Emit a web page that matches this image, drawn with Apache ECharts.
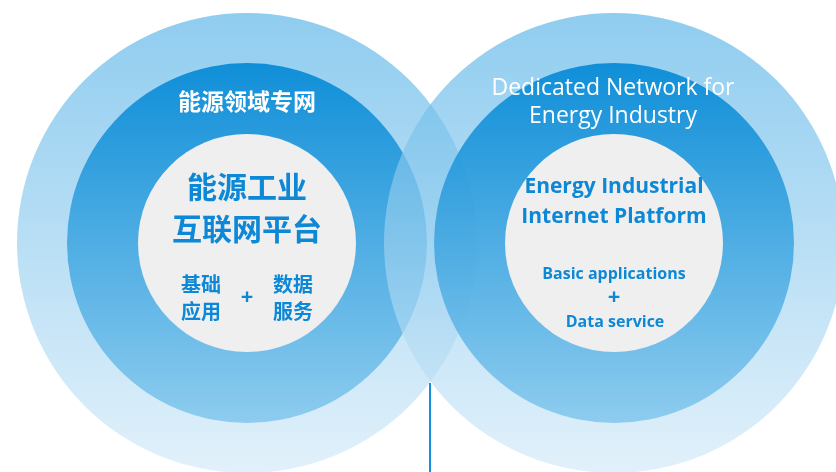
<!DOCTYPE html>
<html>
<head>
<meta charset="utf-8">
<script src="https://cdn.jsdelivr.net/npm/echarts@6/dist/echarts.min.js"></script>
<style>
  html, body { margin: 0; padding: 0; background: #fff; }
  #chart { width: 836px; height: 472px; }
</style>
</head>
<body>
<div id="chart"></div>
<script>
// 圆环：外圈 / 中圈 / 内圈（左：中文，右：英文）
var ringX = [247, 247, 247, 614, 614, 614]
var ringY = [243, 243, 243, 243, 243, 243]
var ringR = [230, 180, 109, 230, 180, 109]
var ringKind = ['outer', 'mid', 'inner', 'outer', 'mid', 'inner']

// 文字
var labelText = [
  '能源领域专网', '能源工业', '互联网平台', '基础', '应用', '+', '数据', '服务',
  'Dedicated Network for', 'Energy Industry', 'Energy Industrial', 'Internet Platform',
  'Basic applications', '+', 'Data service'
]
var labelX = [247, 247, 247, 201, 201, 247, 293, 293, 613, 613, 614, 614, 614, 614, 615]
var labelY = [101, 187, 229, 284, 311, 298, 284, 311, 88, 116, 187, 217, 274, 298, 322]
var labelKind = ['cnHead', 'cnTitle', 'cnTitle', 'cnSub', 'cnSub', 'plus', 'cnSub', 'cnSub',
  'enHead', 'enHead', 'enTitle', 'enTitle', 'enSub', 'plus', 'enSub']

// 竖线
var lineX = [430, 430]
var lineY = [383, 472]

var chartDom = document.getElementById('chart')
var myChart = echarts.init(chartDom)

var ringStyle = {
  outer: {
    color: new echarts.graphic.LinearGradient(0, 0, 0, 1, [
      { offset: 0, color: 'rgb(95,182,232)' },
      { offset: 1, color: 'rgb(212,234,248)' }
    ]),
    opacity: 0.7
  },
  mid: {
    color: new echarts.graphic.LinearGradient(0, 0, 0, 1, [
      { offset: 0, color: 'rgb(0,135,213)' },
      { offset: 1, color: 'rgb(133,200,237)' }
    ]),
    opacity: 0.9
  },
  inner: { color: '#efefef', opacity: 1 }
}

var blue = '#0d88d6'
var base = { textBorderWidth: 0, textShadowBlur: 0 }
var labelStyle = {
  cnHead: { fontFamily: 'Noto Sans CJK SC', fontSize: 23, fontWeight: 'bold', color: '#fff' },
  cnTitle: { fontFamily: 'Noto Sans CJK SC', fontSize: 30, fontWeight: 'bold', color: blue },
  cnSub: { fontFamily: 'Noto Sans CJK SC', fontSize: 20, fontWeight: 'bold', color: blue },
  plus: { fontFamily: 'Open Sans', fontSize: 22, fontWeight: 'bold', color: blue },
  enHead: { fontFamily: 'Open Sans', fontSize: 23, fontWeight: 'normal', color: '#fff' },
  enTitle: { fontFamily: 'Open Sans', fontSize: 21, fontWeight: 'bold', color: blue },
  enSub: { fontFamily: 'Open Sans', fontSize: 16, fontWeight: 'bold', color: blue }
}

var ringData = []
for (var i = 0; i < ringX.length; i++) {
  ringData.push({
    value: [ringX[i], ringY[i]],
    symbolSize: ringR[i] * 2,
    itemStyle: ringStyle[ringKind[i]]
  })
}

var labelData = []
for (var j = 0; j < labelText.length; j++) {
  labelData.push({
    name: labelText[j],
    value: [labelX[j], labelY[j]],
    label: Object.assign({}, base, labelStyle[labelKind[j]])
  })
}

var option = {
  animation: false,
  grid: { left: 0, right: 0, top: 0, bottom: 0 },
  xAxis: { type: 'value', min: 0, max: 836, show: false },
  yAxis: { type: 'value', min: 0, max: 472, inverse: true, show: false },
  series: [
    {
      type: 'scatter',
      symbol: 'circle',
      clip: false,
      silent: true,
      data: ringData,
      z: 1
    },
    {
      type: 'line',
      data: [[lineX[0], lineY[0]], [lineX[1], lineY[1]]],
      symbol: 'none',
      silent: true,
      lineStyle: { color: '#1590e0', width: 2 },
      z: 2
    },
    {
      type: 'scatter',
      symbolSize: 0,
      clip: false,
      silent: true,
      itemStyle: { opacity: 1 },
      label: {
        show: true,
        position: 'inside',
        formatter: '{b}'
      },
      data: labelData,
      z: 3
    }
  ]
}
option && myChart.setOption(option)
</script>
</body>
</html>
